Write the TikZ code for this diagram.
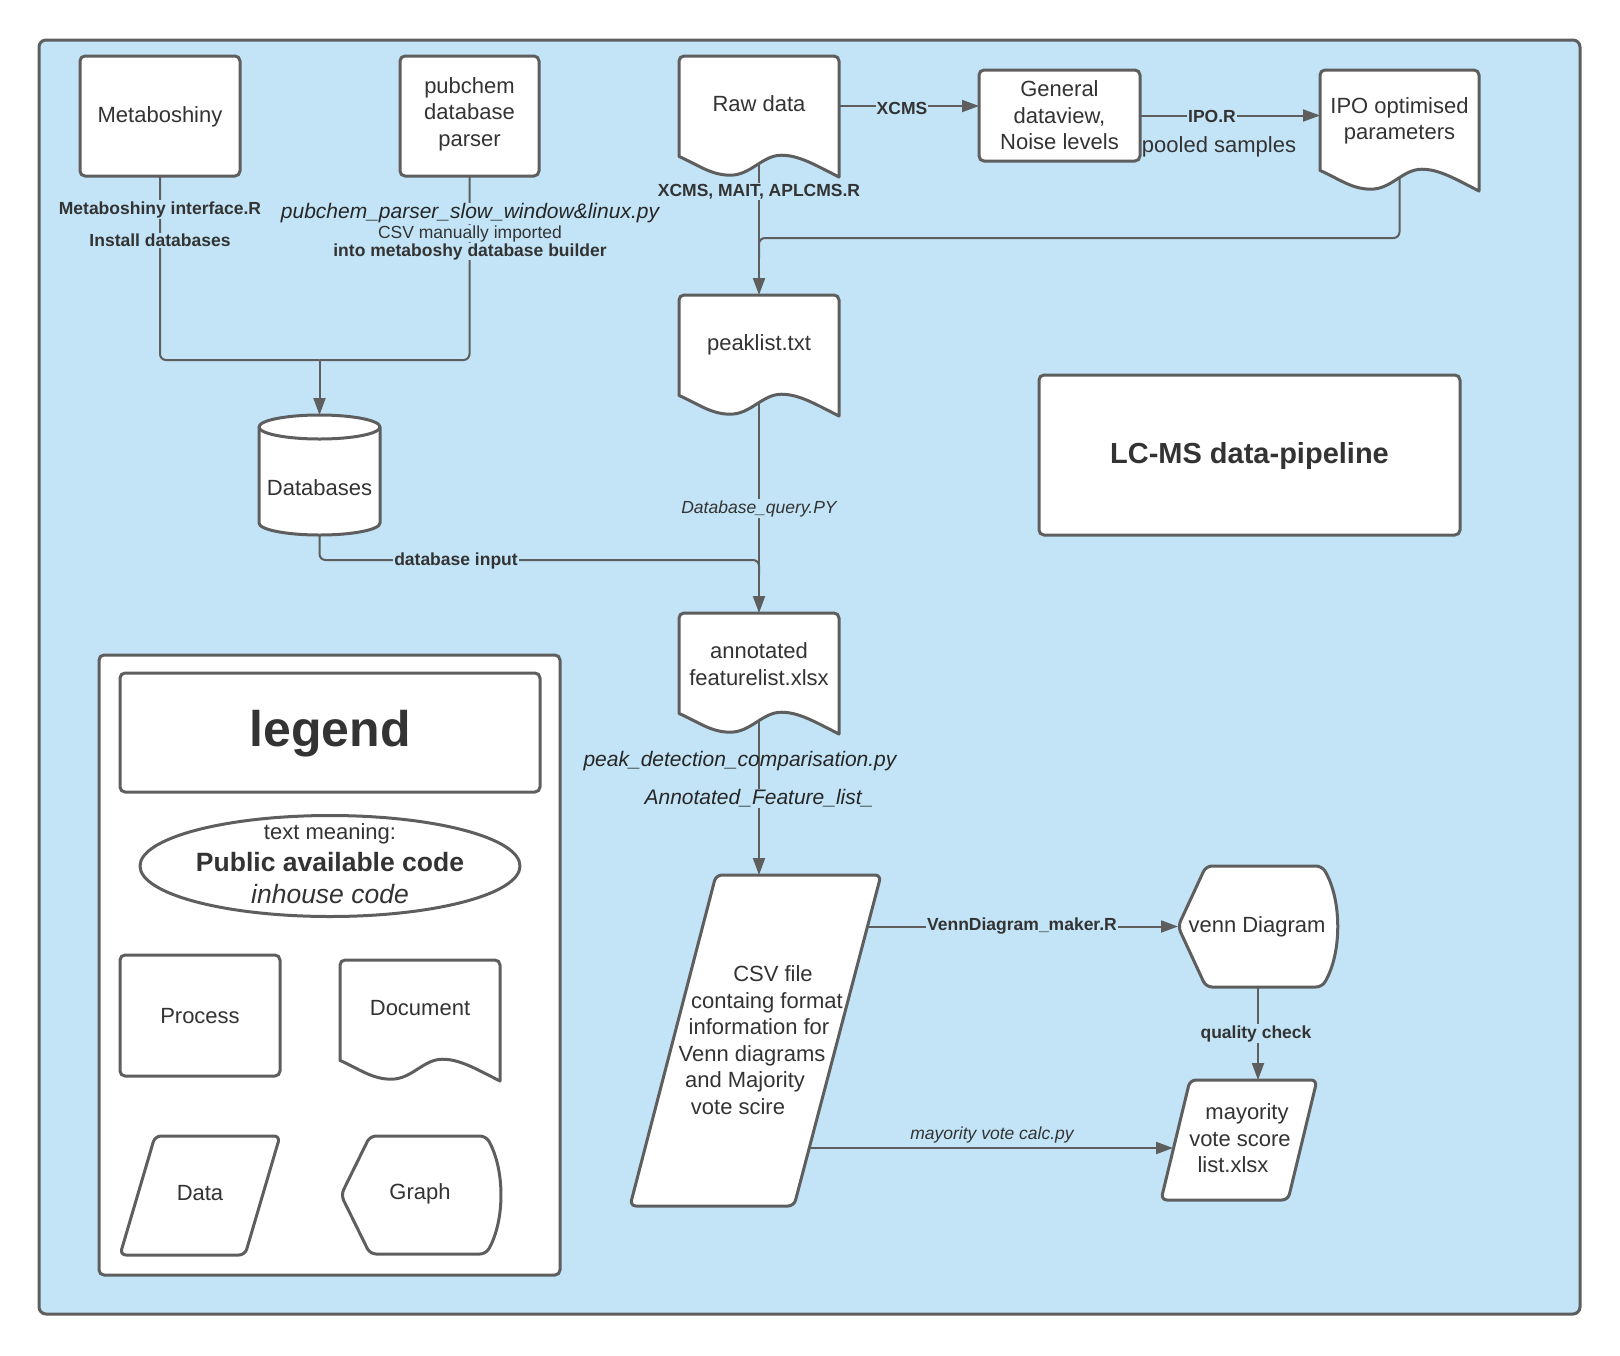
\documentclass[tikz,border=0pt]{standalone}
\usepackage{fontspec}
\setmainfont{Liberation Sans}
\usetikzlibrary{arrows.meta,shapes.geometric,calc}
\definecolor{bgblue}{HTML}{C2E4F6}
\definecolor{linec}{HTML}{5E5E5E}
\definecolor{txtc}{HTML}{333333}
\pgfdeclarelayer{back}\pgfdeclarelayer{conn}\pgfsetlayers{back,conn,main}
\tikzset{
 shp/.style={draw=linec, line width=3pt, fill=white, line join=round},
 pbox/.style={shp, rounded corners=5pt, inner sep=0pt, outer sep=0pt},
 anc/.style={inner sep=0pt, outer sep=0pt, draw=none},
 conn/.style={draw=linec, line width=2pt},
 arr/.style={conn, -{Triangle[length=17pt,width=12pt]}},
 txt/.style={text=txtc, font=\fontsize{22}{26.5}\selectfont, align=center, inner sep=0pt, yshift=-2.5pt},
 lbl/.style={text=txtc, font=\fontsize{17.5}{21}\selectfont\bfseries, fill=bgblue, inner sep=1pt, yshift=-2.5pt},
 rlbl/.style={text=txtc, font=\fontsize{17.5}{21}\selectfont, fill=bgblue, inner sep=0.5pt, yshift=-2.5pt},
 ilbl/.style={text=txtc, font=\fontsize{17.5}{21}\selectfont\itshape, fill=bgblue, inner sep=1pt, yshift=-2.5pt},
 bigi/.style={text=black!85, font=\fontsize{21}{25}\selectfont\itshape, inner sep=0.5pt, yshift=-2.5pt},
}
% document shape: x0 y0 w h
\newcommand\mydocshape[4]{%
\draw[shp] (#1,{#2+0.83*#4}) -- (#1,{#2+5}) arc[start angle=180,end angle=270,radius=5]
 -- ({#1+#3-5},#2) arc[start angle=270,end angle=360,radius=5]
 -- ({#1+#3},{#2+#4})
 .. controls ({#1+0.85*#3},{#2+0.9*#4}) and ({#1+0.75*#3},{#2+0.82*#4}) .. ({#1+0.64*#3},{#2+0.82*#4})
 .. controls ({#1+0.52*#3},{#2+0.82*#4}) and ({#1+0.45*#3},{#2+0.985*#4}) .. ({#1+0.32*#3},{#2+0.985*#4})
 .. controls ({#1+0.2*#3},{#2+0.985*#4}) and ({#1+0.12*#3},{#2+0.9*#4}) .. (#1,{#2+0.83*#4}) -- cycle;}
\begin{document}
\begin{tikzpicture}[x=1pt,y=-1pt]
\useasboundingbox (0,0) rectangle (1620,1355);
\begin{pgfonlayer}{back}
\fill[white] (0,0) rectangle (1620,1355);
\draw[draw=linec, line width=3pt, fill=bgblue, rounded corners=7pt] (39,40) rectangle (1580,1314);
\end{pgfonlayer}

% ---- nodes (boxes and anchor frames)
\node[pbox, minimum width=160, minimum height=120] (meta) at (160,116) {};
\node[pbox, minimum width=139, minimum height=120] (pub) at (469.5,116) {};
\node[anc, minimum width=160, minimum height=121] (raw) at (759,116.5) {};
\node[pbox, minimum width=161, minimum height=91] (gen) at (1059.5,115.5) {};
\node[anc, minimum width=159, minimum height=121] (ipo) at (1399.5,130.5) {};
\node[anc, minimum width=160, minimum height=121] (peak) at (759,355.5) {};
\node[anc, minimum width=121, minimum height=120] (db) at (319.5,475) {};
\node[pbox, minimum width=421, minimum height=160] (lcms) at (1249.5,455) {};
\node[anc, minimum width=160, minimum height=121] (ann) at (759,673.5) {};
\node[anc, minimum width=251, minimum height=331] (csv) at (755.5,1040.5) {};
\node[anc, minimum width=160, minimum height=121] (venn) at (1258,926.5) {};
\node[anc, minimum width=157, minimum height=120] (may) at (1239.5,1140) {};

% ---- connectors
\begin{pgfonlayer}{conn}
\coordinate (j1) at (319.5,360);
\draw[conn, rounded corners=6pt] (meta.south) |- (j1);
\draw[conn, rounded corners=6pt] (pub.south) |- (j1);
\draw[arr] (j1) -- (db.north);
\node[lbl] (l1) at (160,207) {Metaboshiny interface.R};
\node[lbl] (l2) at (160,238) {Install databases};
\node[bigi, fill=bgblue] (l3) at (470,211) {pubchem\_parser\_slow\_window\&linux.py};
\node[rlbl] (l4) at (470,231) {CSV manually imported};
\node[lbl, inner sep=0.5pt] (l5) at (470,249) {into metaboshy database builder};

\coordinate (c1) at (839,106);
\draw[arr] (c1) -- (c1 -| gen.west);
\node[lbl] (l6) at (902,106) {XCMS};

\draw[arr] (gen.east) -- (gen.east -| ipo.west);
\node[lbl] (l7) at (1212,114) {IPO.R};
\node[txt] (l8) at (1219,144) {pooled samples};

\draw[arr] (raw.center) -- (peak.north);
\node[lbl] (l9) at (759,189) {XCMS, MAIT, APLCMS.R};

\coordinate (j2) at (759,238);
\draw[conn, rounded corners=6pt] (ipo.center) |- (j2) -- ++(0,20);

\draw[arr] (peak.center) -- (ann.north);
\node[ilbl] (l10) at (759,506) {Database\_query.PY};

\coordinate (j3) at (759,560);
\draw[conn, rounded corners=6pt] (db.center) |- (j3) -- ++(0,15);
\node[lbl] (l11) at (456,558) {database input};

\draw[arr] (ann.center) -- (ann.center |- csv.north);
\node[bigi] (l12) at (740,759) {peak\_detection\_comparisation.py};
\node[bigi, fill=bgblue] (l13) at (759,796) {Annotated\_Feature\_list\_};

\draw[arr] (csv.center |- venn.west) -- (venn.west);
\node[lbl] (l14) at (1022,924) {VennDiagram\_maker.R};

\draw[arr] (venn.center) -- (venn.center |- may.north);
\node[lbl] (l15) at (1256,1031) {quality check};

\coordinate (c4) at (1173,1148);
\draw[arr] (csv.center |- c4) -- (c4);
\node[ilbl, fill=none] (l16) at (992,1132) {mayority vote calc.py};
\end{pgfonlayer}

% ---- drawn shapes
\mydocshape{679}{56}{160}{121}
\mydocshape{1320}{70}{159}{121}
\mydocshape{679}{295}{160}{121}
\mydocshape{679}{613}{160}{121}
% cylinder
\draw[shp] (259,427) -- (259,523) arc[start angle=180,end angle=0,x radius=60.5,y radius=12]
 -- (380,427) arc[start angle=0,end angle=-180,x radius=60.5,y radius=12] -- cycle;
\draw[draw=linec, line width=3pt] (259,427) arc[start angle=180,end angle=0,x radius=60.5,y radius=12];
% parallelograms
\draw[shp, rounded corners=6pt] (716,875) -- (881,875) -- (794,1206) -- (630,1206) -- cycle;
\draw[shp, rounded corners=6pt] (1190,1080) -- (1317,1080) -- (1288,1200) -- (1161,1200) -- cycle;
% graph
\draw[shp, rounded corners=6pt] (1178,926.5) -- (1206,866) -- (1322,866)
 .. controls (1342,900) and (1342,953) .. (1322,987) -- (1206,987) -- cycle;

% ---- texts
\node[txt] (tmeta) at (160,114) {Metaboshiny};
\node[txt] (tpub) at (469.5,111.5) {pubchem\\database\\parser};
\node[txt] (traw) at (759,101) {Raw data};
\node[txt] (tgen) at (1059.5,113) {General\\dataview,\\Noise levels};
\node[txt] (tipo) at (1399.5,118.5) {IPO optimised\\parameters};
\node[txt] (tpeak) at (759,342) {peaklist.txt};
\node[txt] (tdb) at (319.5,485) {Databases};
\node[txt, font=\fontsize{29}{34}\selectfont\bfseries] (tlcms) at (1249.5,453) {LC-MS data-pipeline};
\node[txt] (tann) at (759,661.5) {annotated\\featurelist.xlsx};
\node[txt] (tcsv) at (755.7,1037.5) {\makebox[0pt]{\hspace*{34.6pt}CSV file}\\
 \makebox[0pt]{\hspace*{22.6pt}containg format}\\
 \makebox[0pt]{\hspace*{6.6pt}information for}\\
 \makebox[0pt]{Venn diagrams\hspace*{7.4pt}}\\
 \makebox[0pt]{and Majority\hspace*{21.4pt}}\\
 \makebox[0pt]{vote scire\hspace*{35.4pt}}};
\node[txt] (tvenn) at (1257,924) {venn Diagram};
\node[txt] (tmay) at (1240,1136) {\makebox[0pt]{\hspace*{14pt}mayority}\\
 \makebox[0pt]{vote score}\\
 \makebox[0pt]{list.xlsx\hspace*{14pt}}};

% ---- legend
\node[pbox, minimum width=461, minimum height=620] (legbox) at (329.5,965) {};
\node[pbox, minimum width=420, minimum height=119] (legtitle) at (330,732.5) {};
\node[txt, font=\fontsize{50}{60}\selectfont\bfseries] (tleg) at (330,731) {legend};
\node[shp, ellipse, minimum width=380, minimum height=101, inner sep=0pt] (lell) at (330,866) {};
\node[txt] (tmean) at (330,831) {text meaning:};
\node[txt, font=\fontsize{26.5}{30}\selectfont\bfseries] (tpac) at (330,860) {Public available code};
\node[txt, font=\fontsize{26.5}{30}\selectfont\itshape] (tin) at (330,892) {inhouse code};
\node[pbox, minimum width=160, minimum height=121] (lproc) at (200,1015.5) {};
\node[txt] (tproc) at (200,1014) {Process};
\mydocshape{340}{960}{160}{121}
\node[txt] (tdoc) at (420,1006) {Document};
\draw[shp, rounded corners=6pt] (155,1136) -- (280,1136) -- (245,1255) -- (120,1255) -- cycle;
\node[txt] (tdata) at (200,1191) {Data};
\draw[shp, rounded corners=6pt] (341,1195) -- (370,1136) -- (486,1136)
 .. controls (505,1170) and (505,1220) .. (486,1254) -- (370,1254) -- cycle;
\node[txt] (tgraph) at (420,1191) {Graph};
\end{tikzpicture}
\end{document}
